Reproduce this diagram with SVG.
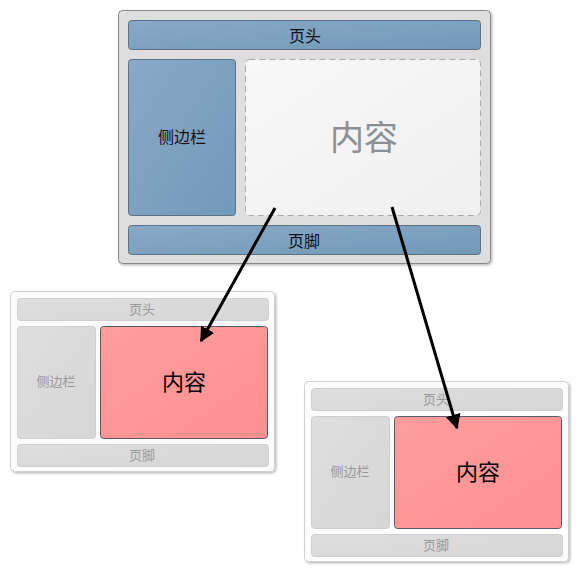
<svg xmlns="http://www.w3.org/2000/svg" width="580" height="574" viewBox="0 0 580 574">
<defs>
<linearGradient id="blue" x1="0" y1="0" x2="1" y2="1">
<stop offset="0" stop-color="#88a9c6"/>
<stop offset="1" stop-color="#7399b9"/>
</linearGradient>
<linearGradient id="red" x1="0" y1="0" x2="1" y2="1">
<stop offset="0" stop-color="#ff9d9d"/>
<stop offset="1" stop-color="#fe8f90"/>
</linearGradient>
<linearGradient id="grey" x1="0" y1="0" x2="1" y2="1">
<stop offset="0" stop-color="#dedede"/>
<stop offset="1" stop-color="#d6d6d6"/>
</linearGradient>
<linearGradient id="light" x1="0" y1="0" x2="1" y2="1">
<stop offset="0" stop-color="#f8f8f8"/>
<stop offset="1" stop-color="#efefef"/>
</linearGradient>
<filter id="sh" x="-5%" y="-5%" width="115%" height="115%">
<feDropShadow dx="1.5" dy="1.5" stdDeviation="1.2" flood-color="#000" flood-opacity="0.25"/>
</filter>
<marker id="ah" viewBox="0 0 10 10" refX="9" refY="5" markerWidth="5" markerHeight="5" orient="auto" markerUnits="strokeWidth">
<path d="M0,0 L10,5 L0,10 z" fill="#000"/>
</marker>
</defs>
<style>
text{font-family:"Noto Sans CJK SC","Liberation Sans",sans-serif;text-anchor:middle}
.blue{fill:url(#blue);stroke:#5d7186;stroke-width:1}
.g{fill:url(#grey);stroke:#cfcfcf;stroke-width:1}
.red{fill:url(#red);stroke:#5a5a6a;stroke-width:1}
.frame2{fill:#fcfcfc;stroke:#d0d0d0;stroke-width:1}
.tb{fill:#111;font-size:16px}
.tg{fill:#999;font-size:13px}
.conn{stroke:#000;stroke-width:3;fill:none;marker-end:url(#ah)}
</style>

<g id="main">
<rect x="118.5" y="10.5" width="372" height="253" rx="4" fill="#dedede" stroke="#888" filter="url(#sh)"/>
<g id="main-header">
<rect x="128.5" y="20.5" width="352" height="29" rx="3" class="blue"/>
<text x="305" y="42" class="tb">页头</text>
</g>
<g id="main-sidebar">
<rect x="128.5" y="59.5" width="107" height="156" rx="3" class="blue"/>
<text x="182" y="143" class="tb">侧边栏</text>
</g>
<g id="main-content">
<rect x="245.5" y="59.5" width="235" height="156" rx="4" fill="url(#light)" stroke="#aaa" stroke-dasharray="6,4"/>
<text x="364" y="150" fill="#8a8f96" style="font-size:34px">内容</text>
</g>
<g id="main-footer">
<rect x="128.5" y="225.5" width="352" height="29" rx="3" class="blue"/>
<text x="304" y="247" class="tb">页脚</text>
</g>
</g>

<g id="left">
<rect x="10.5" y="291.5" width="264" height="180" rx="4" class="frame2" filter="url(#sh)"/>
<g id="left-header">
<rect x="17.5" y="298.5" width="251" height="22" rx="3" class="g"/>
<text x="142" y="314" class="tg">页头</text>
</g>
<g id="left-sidebar">
<rect x="17.5" y="326.5" width="78" height="112" rx="3" class="g"/>
<text x="56" y="386" class="tg">侧边栏</text>
</g>
<g id="left-content">
<rect x="100.5" y="326.5" width="167" height="112" rx="3" class="red"/>
<text x="184" y="390" fill="#000" style="font-size:22px">内容</text>
</g>
<g id="left-footer">
<rect x="17.5" y="444.5" width="251" height="22" rx="3" class="g"/>
<text x="142" y="460" class="tg">页脚</text>
</g>
</g>

<g id="right">
<rect x="304.5" y="381.5" width="264" height="180" rx="4" class="frame2" filter="url(#sh)"/>
<g id="right-header">
<rect x="311.5" y="388.5" width="251" height="22" rx="3" class="g"/>
<text x="436" y="404" class="tg">页头</text>
</g>
<g id="right-sidebar">
<rect x="311.5" y="416.5" width="78" height="112" rx="3" class="g"/>
<text x="350" y="476" class="tg">侧边栏</text>
</g>
<g id="right-content">
<rect x="394.5" y="416.5" width="167" height="112" rx="3" class="red"/>
<text x="478" y="480" fill="#000" style="font-size:22px">内容</text>
</g>
<g id="right-footer">
<rect x="311.5" y="534.5" width="251" height="22" rx="3" class="g"/>
<text x="436" y="550" class="tg">页脚</text>
</g>
</g>

<g id="connectors">
<line x1="275" y1="208" x2="201" y2="341" class="conn"/>
<line x1="392" y1="207" x2="457" y2="428" class="conn"/>
</g>
</svg>
